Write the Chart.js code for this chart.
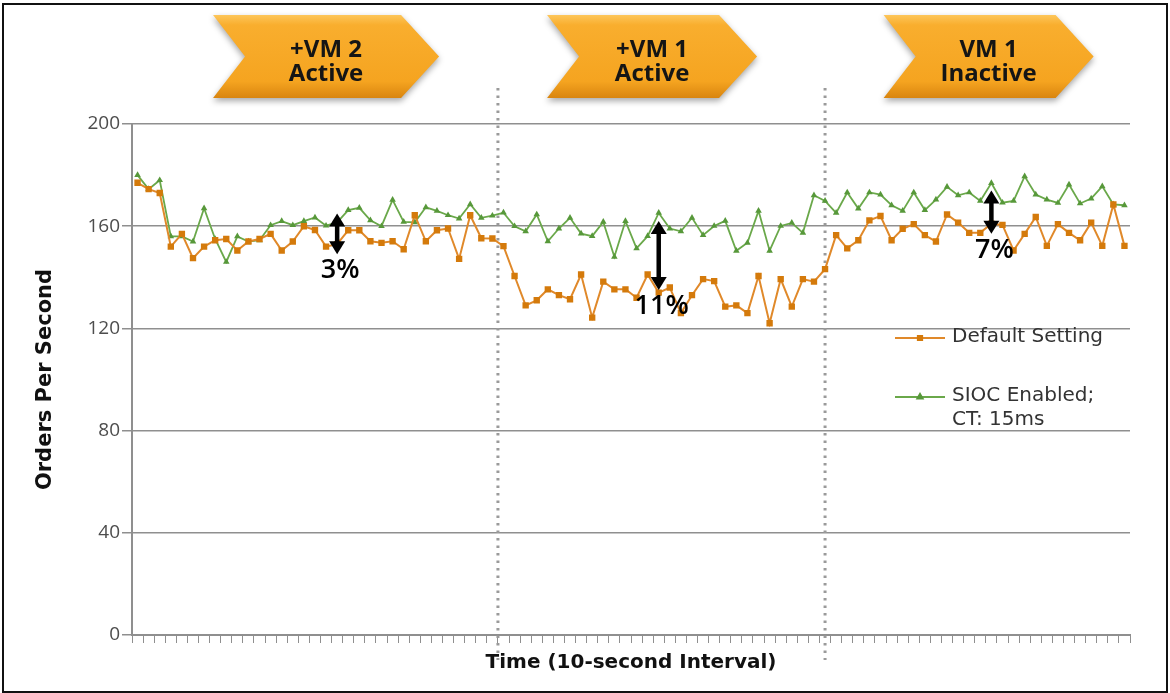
<!DOCTYPE html>
<html>
<head>
<meta charset="utf-8">
<script src="https://cdn.jsdelivr.net/npm/chart.js@4.4.0/dist/chart.umd.min.js"></script>
<style>
  html, body { margin: 0; padding: 0; background: #fff; }
  #wrap { position: relative; width: 1170px; height: 693px; overflow: hidden; }
  #frame { position: absolute; left: 2px; top: 3px; width: 1162px; height: 686px; border: 2px solid #111; pointer-events: none; }
  canvas { position: absolute; left: 0; top: 0; }
</style>
</head>
<body>
<div id="wrap">
  <canvas id="ordersChart" width="1170" height="693"></canvas>
  <div id="frame"></div>
</div>
<script>
// orders per second, one value per 10-second interval
const defaultSetting = [
  177, 174.5, 173, 152, 157, 147.5, 152, 154.5, 155, 150.5,
  154, 155, 157, 150.5, 154, 160, 158.5, 152, 153, 158.4,
  158.4, 154.1, 153.5, 154.1, 151, 164.3, 154.1, 158.4, 159.1, 147.2,
  164.3, 155.3, 155.2, 152.2, 140.5, 129, 131, 135.3, 133, 131.4,
  141.1, 124.2, 138.3, 135.3, 135.3, 132, 141.1, 134, 136, 126,
  133, 139.3, 138.5, 128.5, 129, 126, 140.5, 122, 139.3, 128.5,
  139.3, 138.3, 143.2, 156.5, 151.3, 154.5, 162.3, 164, 154.5, 159,
  160.8, 156.5, 154, 164.6, 161.4, 157.4, 157.4, 161, 160.5, 150.5,
  157, 163.6, 152.3, 160.8, 157.4, 154.5, 161.4, 152.3, 168.5, 152.3
];
const siocEnabled = [
  180, 174.5, 178, 156, 156, 154, 167, 155, 146, 156,
  154, 154.5, 160.4, 162, 160.4, 162, 163.4, 160.2, 161.5, 166.3,
  167.2, 162.3, 160, 170.3, 161.7, 161.5, 167.4, 166, 164.3, 163,
  168.6, 163.3, 164.1, 165.3, 160, 158, 164.6, 154.1, 159.1, 163.3,
  157.1, 156.1, 161.7, 148, 162, 151.3, 156.1, 165.2, 159.1, 158,
  163.3, 156.5, 160.1, 162.1, 150.4, 153.5, 166, 150.4, 160.1, 161.3,
  157.4, 172.1, 169.9, 165.2, 173.2, 166.9, 173.2, 172.4, 168.2, 166,
  173.2, 166.3, 170.4, 175.4, 172.1, 173.2, 169.9, 176.9, 169.2, 169.9,
  179.5, 172.4, 170.4, 169.1, 176.3, 168.9, 170.8, 175.6, 168.5, 168.2
];
const intervals = defaultSetting.map((_, i) => i + 1);
const seriesNames = ['Default Setting', 'SIOC Enabled;\nCT: 15ms'];

// phase changes (between intervals) and the labels above each phase
const phaseChanges = [32.5, 62];
const phaseLabels = [['+VM 2', 'Active'], ['+VM 1', 'Active'], ['VM 1', 'Inactive']];
const phaseLabelAt = [17, 46.4, 76.75];

// gap call-outs: interval, top and bottom of the arrow, text
const gapAt = [18, 47, 77];
const gapTop = [165, 162, 174];
const gapBottom = [149, 135, 157];
const gapText = ['3%', '11%', '7%'];

const FONT = '"Open Sans", "DejaVu Sans", sans-serif';
const WIDE = '"DejaVu Sans", sans-serif';
const GRID = '#8f8f8f';
const chevronWidths = [226, 210, 210];

function drawChevron(ctx, cx, w, text) {
  const top = 15, bottom = 98, tip = 38, notch = 32;
  const left = cx - w / 2, right = cx + w / 2, mid = (top + bottom) / 2;
  ctx.save();
  ctx.beginPath();
  ctx.moveTo(left, top);
  ctx.lineTo(right - tip, top);
  ctx.lineTo(right, mid);
  ctx.lineTo(right - tip, bottom);
  ctx.lineTo(left, bottom);
  ctx.lineTo(left + notch, mid);
  ctx.closePath();
  const g = ctx.createLinearGradient(0, top, 0, bottom);
  g.addColorStop(0, '#fdc65a');
  g.addColorStop(0.12, '#f9ae2e');
  g.addColorStop(0.8, '#f5a420');
  g.addColorStop(1, '#d9850f');
  ctx.shadowColor = 'rgba(0,0,0,0.35)';
  ctx.shadowBlur = 6;
  ctx.shadowOffsetY = 3;
  ctx.fillStyle = g;
  ctx.fill();
  ctx.restore();
  ctx.save();
  ctx.fillStyle = '#151515';
  ctx.font = 'bold 24px ' + FONT;
  ctx.textAlign = 'center';
  ctx.textBaseline = 'middle';
  ctx.fillText(text[0], cx, 50);
  ctx.fillText(text[1], cx, 74);
  ctx.restore();
}

function drawGapArrow(ctx, x, yTop, yBot) {
  const head = 13, half = 8;
  ctx.save();
  ctx.strokeStyle = '#000';
  ctx.fillStyle = '#000';
  ctx.lineWidth = 4.5;
  ctx.beginPath();
  ctx.moveTo(x, yTop + head - 1);
  ctx.lineTo(x, yBot - head + 1);
  ctx.stroke();
  ctx.beginPath();
  ctx.moveTo(x, yTop);
  ctx.lineTo(x + half, yTop + head);
  ctx.lineTo(x - half, yTop + head);
  ctx.closePath();
  ctx.fill();
  ctx.beginPath();
  ctx.moveTo(x, yBot);
  ctx.lineTo(x + half, yBot - head);
  ctx.lineTo(x - half, yBot - head);
  ctx.closePath();
  ctx.fill();
  ctx.restore();
}

const overlayPlugin = {
  id: 'overlay',
  beforeDatasetsDraw(chart) {
    const { ctx, chartArea, scales: { x } } = chart;
    ctx.save();
    ctx.strokeStyle = '#9a9a9a';
    ctx.lineWidth = 3;
    ctx.setLineDash([2.5, 5]);
    phaseChanges.forEach(v => {
      const px = x.getPixelForValue(v);
      ctx.beginPath();
      ctx.moveTo(px, 88);
      ctx.lineTo(px, chartArea.bottom + 25);
      ctx.stroke();
    });
    ctx.restore();
  },
  afterDatasetsDraw(chart) {
    const { ctx, chartArea, scales: { x, y } } = chart;
    gapAt.forEach((v, i) => {
      const px = x.getPixelForValue(v);
      const yB = y.getPixelForValue(gapBottom[i]);
      drawGapArrow(ctx, px, y.getPixelForValue(gapTop[i]), yB);
      ctx.save();
      ctx.fillStyle = '#000';
      ctx.font = '600 27px ' + FONT;
      ctx.textAlign = 'center';
      ctx.textBaseline = 'middle';
      ctx.fillText(gapText[i], px + 3, yB + 16);
      ctx.restore();
    });

    // legend inside the plot, right side
    const lx = chartArea.right - 235;
    const rows = [chartArea.top + 214, chartArea.top + 273];
    chart.data.datasets.forEach((ds, i) => {
      const ly = rows[i];
      ctx.save();
      ctx.strokeStyle = ds.borderColor;
      ctx.lineWidth = 2;
      ctx.beginPath();
      ctx.moveTo(lx, ly);
      ctx.lineTo(lx + 50, ly);
      ctx.stroke();
      ctx.fillStyle = ds.pointBackgroundColor;
      ctx.strokeStyle = ds.pointBorderColor;
      Chart.helpers.drawPoint(ctx, {
        pointStyle: ds.pointStyle, radius: 3, borderWidth: 1
      }, lx + 25, ly);
      ctx.fillStyle = '#333';
      ctx.font = '20px ' + WIDE;
      ctx.textAlign = 'left';
      ctx.textBaseline = 'middle';
      seriesNames[i].split('\n').forEach((t, k) => {
        ctx.fillText(t, lx + 57, ly - 1 + k * 24);
      });
      ctx.restore();
    });
  },
  afterDraw(chart) {
    const { ctx, scales: { x } } = chart;
    phaseLabelAt.forEach((v, i) => drawChevron(ctx, x.getPixelForValue(v), chevronWidths[i], phaseLabels[i]));
  }
};

new Chart(document.getElementById('ordersChart'), {
  type: 'line',
  data: {
    labels: intervals,
    datasets: [
      {
        label: 'Default Setting',
        data: defaultSetting,
        borderColor: '#e0892a',
        borderWidth: 2,
        pointStyle: 'rect',
        pointRadius: 4.5,
        pointBackgroundColor: '#d47a0b',
        pointBorderColor: '#d47a0b',
        pointBorderWidth: 0,
        tension: 0
      },
      {
        label: 'SIOC Enabled; CT: 15ms',
        data: siocEnabled,
        borderColor: '#6aa84a',
        borderWidth: 1.8,
        pointStyle: 'triangle',
        pointRadius: 3.8,
        pointBackgroundColor: '#57983a',
        pointBorderColor: '#57983a',
        pointBorderWidth: 0,
        tension: 0
      }
    ]
  },
  options: {
    responsive: false,
    animation: false,
    layout: { padding: { top: 124, right: 40, bottom: 0, left: 0 } },
    plugins: {
      legend: { display: false },
      tooltip: { enabled: false }
    },
    scales: {
      x: {
        offset: true,
        grid: { offset: true, drawOnChartArea: false, drawTicks: true, tickLength: 8, color: GRID, lineWidth: 1 },
        border: { color: GRID, width: 2 },
        ticks: { display: false, autoSkip: false },
        title: {
          display: true,
          text: 'Time (10-second Interval)',
          color: '#111',
          font: { family: WIDE, size: 20, weight: 'bold' },
          padding: { top: 0, bottom: 18 }
        },
        afterFit(scale) { scale.height = 58; }
      },
      y: {
        min: 0,
        max: 200,
        ticks: {
          stepSize: 40,
          padding: 2,
          color: '#4d4d4d',
          font: { family: FONT, size: 19 }
        },
        grid: { color: GRID, lineWidth: 1.5, tickLength: 10 },
        border: { color: GRID, width: 2 },
        title: {
          display: true,
          text: 'Orders Per Second',
          color: '#111',
          font: { family: WIDE, size: 21, weight: 'bold' },
          padding: { top: 33, bottom: 0 }
        },
        afterFit(scale) { scale.width = 132; }
      }
    }
  },
  plugins: [overlayPlugin]
});
</script>
</body>
</html>
